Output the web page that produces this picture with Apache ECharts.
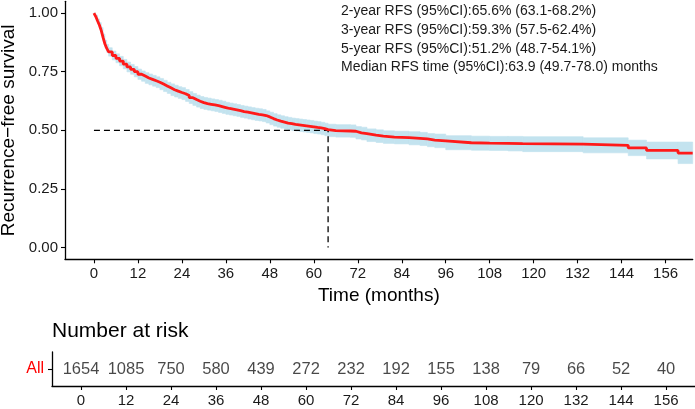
<!DOCTYPE html>
<html>
<head>
<meta charset="utf-8">
<script src="https://cdn.jsdelivr.net/npm/echarts@6/dist/echarts.min.js"></script>
<style>
html,body{margin:0;padding:0;background:#fff;}
#chart{width:695px;height:409px;}
</style>
</head>
<body>
<div id="chart"></div>
<script>
// ---- data ----
var times = [0,0.5,1,1.5,2,2.5,3,3.5,4,5,6,7,8,9,10,11,12,13,14,15,16,17,18,19,20,21,22,23,24,25,26,27,28,29,30,31,32,33,34,35,36,37,38,39,40,41,42,43,44,45,46,47,48,49,50,51,52,53,54,55,56,57,58,59,60,61,62,63,63.9,66,70,71.5,73,74.5,77,79,82,86,89,91,93,96,103,108,113,117,133.5,145.8,150.8,159.4,163.4];
var surv = [1.000,0.985,0.966,0.948,0.925,0.895,0.868,0.849,0.834,0.819,0.807,0.795,0.782,0.770,0.760,0.750,0.739,0.731,0.723,0.717,0.711,0.705,0.697,0.689,0.681,0.673,0.667,0.661,0.656,0.648,0.639,0.631,0.624,0.618,0.614,0.611,0.608,0.605,0.601,0.597,0.593,0.590,0.587,0.584,0.580,0.577,0.574,0.571,0.568,0.566,0.563,0.557,0.550,0.544,0.539,0.535,0.531,0.528,0.525,0.523,0.521,0.519,0.517,0.515,0.512,0.510,0.507,0.503,0.499,0.497,0.496,0.489,0.486,0.479,0.475,0.471,0.469,0.466,0.463,0.458,0.455,0.447,0.445,0.444,0.443,0.441,0.436,0.425,0.414,0.403,0.403];
var lower = [1.000,0.979,0.957,0.937,0.912,0.880,0.852,0.832,0.816,0.800,0.788,0.775,0.762,0.749,0.739,0.728,0.717,0.709,0.700,0.694,0.688,0.682,0.673,0.665,0.657,0.648,0.642,0.636,0.631,0.623,0.614,0.606,0.599,0.593,0.589,0.586,0.583,0.580,0.576,0.572,0.568,0.565,0.562,0.559,0.555,0.552,0.548,0.545,0.542,0.540,0.537,0.531,0.524,0.518,0.513,0.509,0.505,0.502,0.499,0.497,0.495,0.493,0.491,0.489,0.486,0.484,0.481,0.477,0.473,0.471,0.470,0.463,0.459,0.452,0.448,0.444,0.442,0.438,0.435,0.430,0.426,0.417,0.415,0.414,0.412,0.409,0.404,0.392,0.378,0.358,0.358];
var upper = [1.000,0.991,0.975,0.959,0.938,0.910,0.884,0.866,0.852,0.838,0.826,0.815,0.802,0.791,0.781,0.772,0.761,0.753,0.746,0.740,0.734,0.728,0.721,0.713,0.705,0.698,0.692,0.686,0.682,0.674,0.665,0.657,0.650,0.644,0.640,0.637,0.634,0.631,0.628,0.624,0.619,0.616,0.613,0.610,0.606,0.603,0.600,0.597,0.594,0.592,0.589,0.583,0.577,0.571,0.566,0.562,0.558,0.555,0.552,0.550,0.548,0.546,0.544,0.542,0.539,0.537,0.534,0.530,0.526,0.524,0.523,0.516,0.513,0.506,0.502,0.498,0.496,0.494,0.491,0.486,0.484,0.477,0.475,0.474,0.474,0.473,0.468,0.458,0.450,0.450,0.450];
var medianTime = 63.9;
var medianSurv = 0.5;
var xTicks = [0,12,24,36,48,60,72,84,96,108,120,132,144,156];
var yTicks = [0,0.25,0.5,0.75,1];
var riskTimes = [0,12,24,36,48,60,72,84,96,108,120,132,144,156];
var riskCounts = [1654,1085,750,580,439,272,232,192,155,138,79,66,52,40];
var riskGroup = 'All';
var annotLines = [
  '2-year RFS (95%CI):65.6% (63.1-68.2%)',
  '3-year RFS (95%CI):59.3% (57.5-62.4%)',
  '5-year RFS (95%CI):51.2% (48.7-54.1%)',
  'Median RFS time (95%CI):63.9 (49.7-78.0) months'
];
var yTitle = 'Recurrence\u2212free survival';
var xTitle = 'Time (months)';
var riskTitle = 'Number at risk';

// ---- build series data ----
var lineData = times.map(function(t,i){return [t, surv[i]];});
var bandRows = times.slice(0, -1).map(function(t,i){return [t, times[i+1], lower[i], upper[i]];});
var medData = [[0, medianSurv],[medianTime, medianSurv],[medianTime, 0]];
var riskData = riskTimes.map(function(t,i){return [t, riskGroup, riskCounts[i]];});

var FONT = '"Liberation Sans", Arial, Helvetica, sans-serif';
var TXT = '#1a1a1a';
var BAND = '#c3e3ef';

var chart = echarts.init(document.getElementById('chart'), null, {renderer:'canvas'});
var option = {
  animation:false,
  textStyle:{fontFamily:FONT},
  title:{text:riskTitle, left:52, top:321, padding:0,
    textStyle:{fontFamily:FONT, fontSize:21, fontWeight:'normal', color:'#000'}},
  graphic: annotLines.map(function(s,i){
    return {type:'text', left:341, top:4.5 + i*18.6,
      style:{text:s, fontFamily:FONT, fontSize:14, fill:'#1a1a1a'}};
  }),
  grid:[
    {left:65, top:1.3, width:627.7, height:258, containLabel:false, outerBoundsMode:'none'},
    {left:52, top:352, right:0, height:34, containLabel:false, outerBoundsMode:'none'}
  ],
  xAxis:[
    {type:'value', gridIndex:0, min:-7.9, max:163.4,
     name:xTitle, nameLocation:'middle', nameGap:23,
     nameTextStyle:{fontFamily:FONT, fontSize:19, color:'#000'},
     axisLine:{show:true, onZero:false, lineStyle:{color:'#000', width:1.3}},
     axisTick:{show:true, length:4, customValues:xTicks, lineStyle:{color:'#000', width:1.1}},
     axisLabel:{customValues:xTicks, margin:7, fontSize:15, color:TXT, fontFamily:FONT},
     splitLine:{show:false}},
    {type:'value', gridIndex:1, min:-7.73, max:163.7,
     axisLine:{show:true, onZero:false, lineStyle:{color:'#000', width:1.3}},
     axisTick:{show:true, length:4, customValues:riskTimes, lineStyle:{color:'#000', width:1.1}},
     axisLabel:{customValues:riskTimes, margin:7, fontSize:15, color:TXT, fontFamily:FONT},
     splitLine:{show:false}}
  ],
  yAxis:[
    {type:'value', gridIndex:0, min:-0.05, max:1.05,
     name:yTitle, nameLocation:'middle', nameGap:44, nameRotate:90,
     nameTextStyle:{fontFamily:FONT, fontSize:19, color:'#000'},
     axisLine:{show:true, onZero:false, lineStyle:{color:'#000', width:1.3}},
     axisTick:{show:true, length:4, customValues:yTicks, lineStyle:{color:'#000', width:1.1}},
     axisLabel:{customValues:yTicks, margin:7, fontSize:15, color:TXT, fontFamily:FONT,
       formatter:function(v){return v.toFixed(2);}},
     splitLine:{show:false}},
    {type:'category', gridIndex:1, data:[riskGroup],
     axisLine:{show:true, onZero:false, lineStyle:{color:'#000', width:1.3}},
     axisTick:{show:true, length:4, alignWithLabel:true, lineStyle:{color:'#000', width:1.1}},
     axisLabel:{margin:8, fontSize:16, color:'#ff0000', fontFamily:FONT},
     splitLine:{show:false}}
  ],
  series:[
    {type:'custom', xAxisIndex:0, yAxisIndex:0, data:bandRows, silent:true, z:1,
     encode:{x:[0,1], y:[2,3]},
     renderItem:function(params, api){
       var p0 = api.coord([api.value(0), api.value(3)]);
       var p1 = api.coord([api.value(1), api.value(2)]);
       return {type:'rect',
         shape:{x:p0[0], y:p0[1], width:p1[0]-p0[0], height:p1[1]-p0[1]},
         style:{fill:BAND, stroke:BAND, lineWidth:0.6}};
     }},
    {type:'line', xAxisIndex:0, yAxisIndex:0, data:medData, symbol:'none',
     lineStyle:{color:'#000', width:1.3, type:[6,4]}, z:2},
    {type:'line', xAxisIndex:0, yAxisIndex:0, data:lineData, step:'end', symbol:'none',
     lineStyle:{color:'#ff1a1a', width:2.8}, z:3},
    {type:'scatter', xAxisIndex:1, yAxisIndex:1, data:riskData, symbolSize:1,
     itemStyle:{color:'rgba(0,0,0,0)'},
     label:{show:true, position:'inside', fontSize:16.5, color:TXT, fontFamily:FONT,
       formatter:function(p){return String(p.value[2]);}}}
  ]
};
chart.setOption(option);
</script>
</body>
</html>
